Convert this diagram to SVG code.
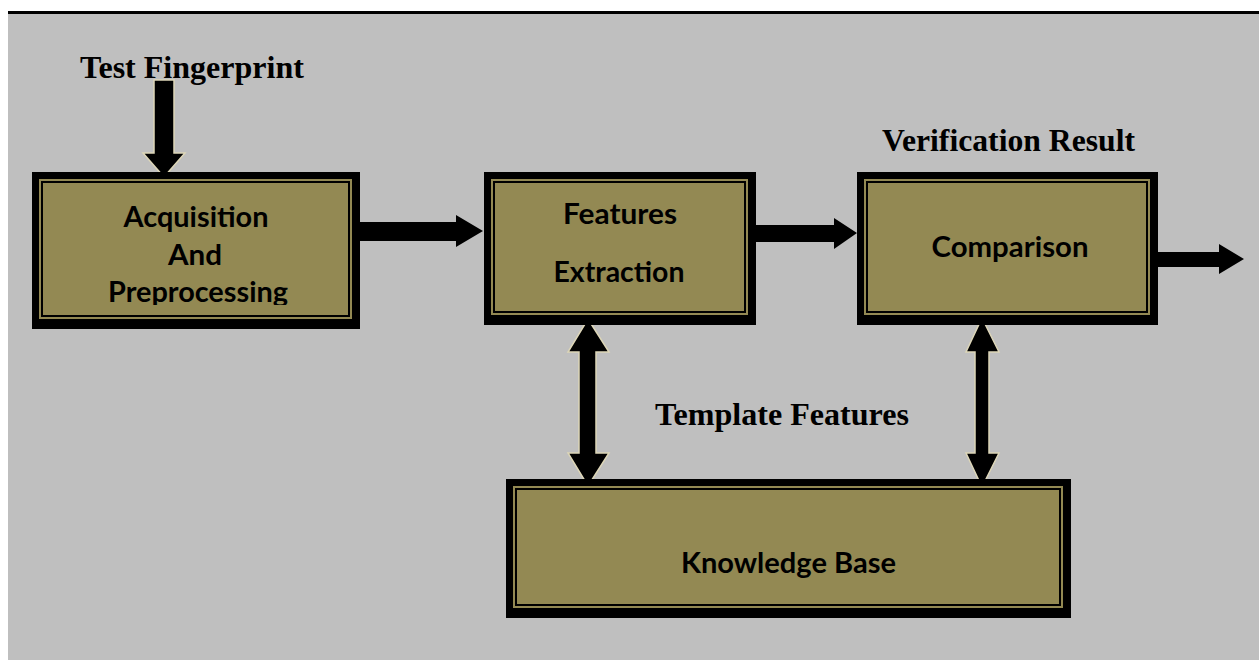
<svg xmlns="http://www.w3.org/2000/svg" width="1259" height="660" viewBox="0 0 1259 660">
<style>
.outer{fill:#000}
.band{fill:#938953}
.inner{fill:#938953;stroke:#000;stroke-width:2}
.lbl{font-family:Lato,"Open Sans",sans-serif;font-weight:bold;font-size:28px;fill:#000;text-anchor:middle}
.cap{font-family:"Liberation Serif","Times New Roman",serif;font-weight:bold;font-size:31.7px;fill:#000}
.harr{fill:#000}
.varr{fill:#000;stroke:#ddd6b8;stroke-width:1.5;stroke-linejoin:miter}
</style>
<defs>
<clipPath id="clip1"><rect x="40" y="180" width="312" height="125"/></clipPath>
</defs>
<rect x="0" y="0" width="1259" height="660" fill="#fff"/>
<rect x="8" y="14" width="1251" height="646" fill="#bfbfbf"/>
<rect x="8" y="11" width="1251" height="3" fill="#000"/>

<g id="connectors">
<polygon class="harr" points="360,222 456,222 456,215 483,231 456,247 456,241 360,241"/>
<polygon class="harr" points="756,225 834,225 834,218 857,233 834,249 834,242 756,242"/>
<polygon class="harr" points="1158,252 1219,252 1219,244 1244,259 1219,274 1219,267 1158,267"/>
<polygon class="varr" points="154,80 174,80 174,153 185,153 164,177 143,153 154,153"/>
<polygon class="varr" points="588,319 609,352 596,352 596,453 609,453 588,486 568,453 579,453 579,352 568,352"/>
<polygon class="varr" points="982,318 999,352 989,352 989,453 999,453 982,487 966,453 975,453 975,352 966,352"/>
</g>

<g id="test-fingerprint">
<text class="cap" x="80" y="78" textLength="224" lengthAdjust="spacingAndGlyphs">Test Fingerprint</text>
</g>
<g id="verification-result">
<text class="cap" x="882" y="151" textLength="253" lengthAdjust="spacingAndGlyphs">Verification Result</text>
</g>
<g id="template-features">
<text class="cap" x="655" y="425" textLength="254" lengthAdjust="spacingAndGlyphs">Template Features</text>
</g>

<g id="acquisition">
<rect class="outer" x="32" y="172" width="328" height="157"/>
<rect class="band" x="39" y="179" width="313" height="140"/>
<rect class="inner" x="42" y="182" width="307" height="134"/>
<g clip-path="url(#clip1)">
<text class="lbl" x="196" y="227" textLength="145" lengthAdjust="spacingAndGlyphs">Acquisition</text>
<text class="lbl" x="195" y="265" textLength="54" lengthAdjust="spacingAndGlyphs">And</text>
<text class="lbl" x="198" y="302" textLength="180" lengthAdjust="spacingAndGlyphs">Preprocessing</text>
</g>
</g>

<g id="features-extraction">
<rect class="outer" x="484" y="172" width="272" height="153"/>
<rect class="band" x="491" y="179" width="257" height="136"/>
<rect class="inner" x="494" y="182" width="251" height="130"/>
<text class="lbl" x="620" y="224" textLength="114" lengthAdjust="spacingAndGlyphs">Features</text>
<text class="lbl" x="619" y="282" textLength="131" lengthAdjust="spacingAndGlyphs">Extraction</text>
</g>

<g id="comparison">
<rect class="outer" x="857" y="172" width="301" height="153"/>
<rect class="band" x="864" y="179" width="286" height="136"/>
<rect class="inner" x="867" y="182" width="280" height="130"/>
<text class="lbl" x="1010" y="257" textLength="157" lengthAdjust="spacingAndGlyphs">Comparison</text>
</g>

<g id="knowledge-base">
<rect class="outer" x="506" y="479" width="565" height="139"/>
<rect class="band" x="513" y="486" width="550" height="122"/>
<rect class="inner" x="516" y="489" width="544" height="116"/>
<text class="lbl" x="788.5" y="573" textLength="215" lengthAdjust="spacingAndGlyphs">Knowledge Base</text>
</g>
</svg>
